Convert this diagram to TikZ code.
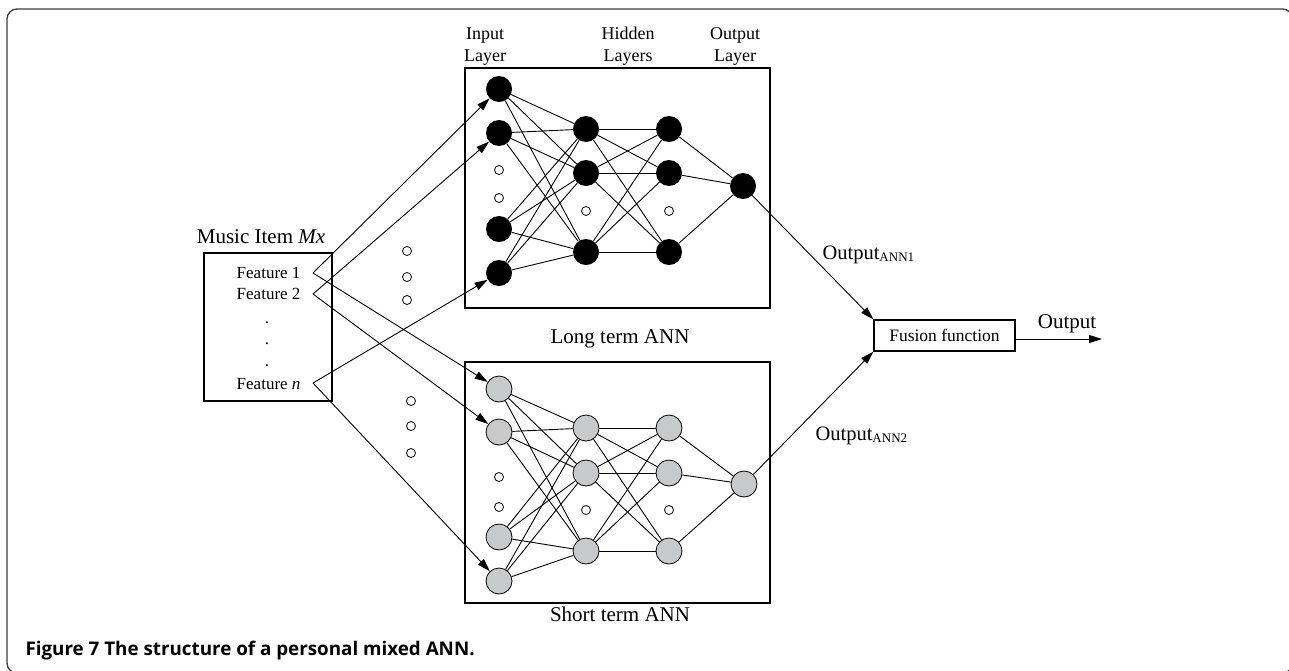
\documentclass[tikz,border=0pt]{standalone}
\usepackage{fontspec}
\setmainfont{Liberation Serif}
\newfontfamily\capfont{Open Sans}
\usetikzlibrary{arrows.meta}
\definecolor{ngray}{RGB}{200,201,203}
\definecolor{framegray}{RGB}{60,60,60}
\tikzset{
  x=1pt, y=-1pt,
  bnode/.style={circle, fill=black, minimum size=26pt, inner sep=0pt},
  gnode/.style={circle, draw=black, fill=ngray, line width=0.8pt, minimum size=26pt, inner sep=0pt},
  smallc/.style={circle, draw=black, line width=0.8pt, minimum size=9pt, inner sep=0pt},
  conn/.style={line width=0.9pt},
  arr/.style={line width=0.9pt, -{Triangle[length=13pt,width=8pt]}},
  frame/.style={line width=1.6pt},
  lbl/.style={font=\fontsize{18}{21.5}\selectfont, align=center},
  big/.style={font=\fontsize{21}{25}\selectfont},
}
\begin{document}
\begin{tikzpicture}
\useasboundingbox (0,0) rectangle (1289,670);
\clip (0,0) rectangle (1289,670);

% outer rounded frame
\draw[framegray, line width=1.3pt, rounded corners=10pt] (7,9) rectangle (1292.5,673);

% caption
\node[anchor=base west, font=\capfont\bfseries\fontsize{18.8}{22}\selectfont] (cap) at (22,655)
  {Figure 7 The structure of a personal mixed ANN.};

% music item box with its features
\draw[frame] (204,253) rectangle (332,401);
\node[big] (mtitle) at (261,237) {Music Item \textit{Mx}};
\node[anchor=base east, font=\fontsize{17}{20}\selectfont] (f1) at (304,278) {Feature 1};
\node[anchor=base east, font=\fontsize{17}{20}\selectfont] (f2) at (304,299) {Feature 2};
\node[anchor=base east, font=\fontsize{17}{20}\selectfont] (fn) at (304,389) {Feature \textit{n}};
\foreach \yy [count=\k] in {323,344,366}
  \node[anchor=base, font=\fontsize{17}{20}\selectfont] (fdot\k) at (267,\yy) {.};
\coordinate (a1) at (313,273);
\coordinate (a2) at (313,294);
\coordinate (an) at (313,383);

% network boxes and titles
\draw[frame] (465,68) rectangle (770,308);
\draw[frame] (465,362) rectangle (770,603);
\node[anchor=base, big] (ltitle) at (620,343) {Long term ANN};
\node[anchor=base, big] (stitle) at (620,621) {Short term ANN};
\node[anchor=base, lbl] (lin) at (485,61) {Input\\Layer};
\node[anchor=base, lbl] (lhid) at (628,61) {Hidden\\Layers};
\node[anchor=base, lbl] (lout) at (735,61) {Output\\Layer};

% long term network nodes
\foreach \yy [count=\k] in {89,133,229,273} \node[bnode] (Li\k) at (499,\yy) {};
\foreach \yy [count=\k] in {129,173,252} \node[bnode] (La\k) at (586,\yy) {};
\foreach \yy [count=\k] in {129,173,252} \node[bnode] (Lb\k) at (669,\yy) {};
\node[bnode] (Lo) at (743,186) {};
\node[smallc] (Ld1) at (499,170) {};
\node[smallc] (Ld2) at (499,198) {};
\node[smallc] (Ld3) at (586,211) {};
\node[smallc] (Ld4) at (669,211) {};

% short term network nodes
\foreach \yy [count=\k] in {389,432,537,581} \node[gnode] (Si\k) at (499,\yy) {};
\foreach \yy [count=\k] in {428,473,551} \node[gnode] (Sa\k) at (586,\yy) {};
\foreach \yy [count=\k] in {428,473,551} \node[gnode] (Sb\k) at (669,\yy) {};
\node[gnode] (So) at (744,484) {};
\node[smallc] (Sd1) at (499,477) {};
\node[smallc] (Sd2) at (499,507) {};
\node[smallc] (Sd3) at (586,510) {};
\node[smallc] (Sd4) at (669,510) {};

% connections inside both networks
\foreach \n in {L,S}{
  \foreach \i in {1,...,4}
    \foreach \j in {1,2,3}
      \draw[conn] (\n i\i) -- (\n a\j);
  \foreach \i in {1,2,3}
    \foreach \j in {1,2,3}
      \draw[conn] (\n a\i) -- (\n b\j);
  \foreach \i in {1,2,3}
    \draw[conn] (\n b\i) -- (\n o);
}

% small circles between the features and the networks
\node[smallc] (m1) at (407,251) {};
\node[smallc] (m2) at (407,277) {};
\node[smallc] (m3) at (407,300) {};
\node[smallc] (m4) at (411,401) {};
\node[smallc] (m5) at (411,426) {};
\node[smallc] (m6) at (411,453) {};

% feature inputs
\draw[arr] (a1) -- (Li1);
\draw[arr] (a1) -- (Si1);
\draw[arr] (a2) -- (Li2);
\draw[arr] (a2) -- (Si2);
\draw[arr] (an) -- (Li4);
\draw[arr] (an) -- (Si4);

% fusion stage
\node[draw, line width=1.4pt, minimum width=141pt, minimum height=31pt, inner sep=0pt,
      font=\fontsize{17.5}{20}\selectfont] (fus) at (944.5,335.5) {Fusion function};
\coordinate (outend) at (1102,339);
\draw[arr] (Lo) -- (fus.north west);
\draw[arr] (So) -- (fus.south west);
\draw[arr] (fus.east |- outend) -- (outend);
\node[anchor=base, big] (outlbl) at (1067,328) {Output};
\node[anchor=base west, font=\fontsize{20.5}{24}\selectfont] (o1) at (819,259)
  {Output\raisebox{-0.3ex}{\fontsize{13}{15}\selectfont ANN1}};
\node[anchor=base west, font=\fontsize{20.5}{24}\selectfont] (o2) at (812,440)
  {Output\raisebox{-0.3ex}{\fontsize{13}{15}\selectfont ANN2}};
\end{tikzpicture}
\end{document}
